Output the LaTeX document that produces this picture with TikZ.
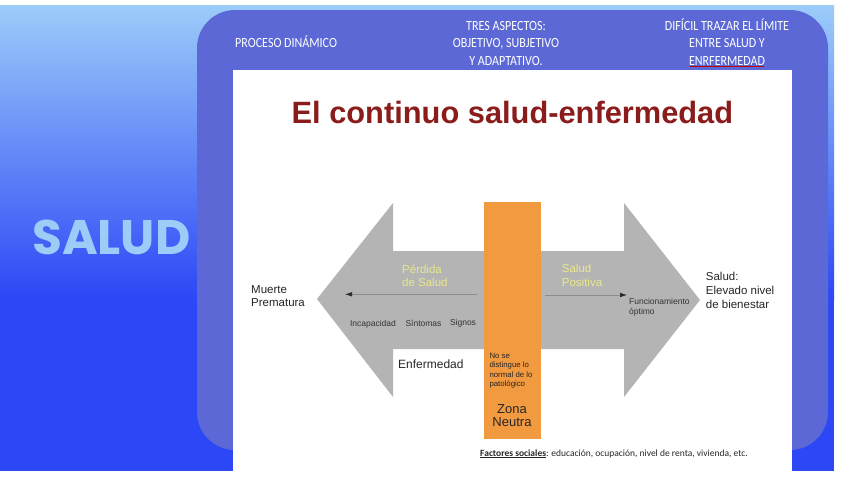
\documentclass[tikz,border=0pt]{standalone}
\usepackage{fontspec}
\setmainfont{Liberation Sans}
\newfontfamily\calibcond[FakeStretch=0.86]{Carlito}
\newfontfamily\calib{Carlito}
\newfontfamily\heavy{Poppins}
\usetikzlibrary{arrows.meta}
\definecolor{skytop}{HTML}{9CCCF9}
\definecolor{skydeep}{HTML}{2B47F6}
\definecolor{skytext}{HTML}{9DCCF9}
\definecolor{panel}{HTML}{5B68D6}
\definecolor{arrowgray}{HTML}{B4B4B4}
\definecolor{zonaorange}{HTML}{F29A40}
\definecolor{titlered}{HTML}{8B1C1C}
\definecolor{paleyellow}{HTML}{EAE88A}
\begin{document}
\begin{tikzpicture}[x=1pt,y=-1pt,inner sep=0pt,
    toptext/.style={text=white,font=\calibcond\fontsize{14}{17.5}\selectfont},
    bigtext/.style={text=black!85,font=\fontsize{11.5}{13.5}\selectfont},
    smalltext/.style={text=black!80,font=\fontsize{8.5}{10}\selectfont},
    yellowtext/.style={text=paleyellow,font=\fontsize{11.5}{13.5}\selectfont}]
\useasboundingbox (0,0) rectangle (848,477);
\fill[white] (0,0) rectangle (848,477);
\shade[top color=skytop,bottom color=skydeep] (0,5) rectangle (834,300);
\fill[skydeep] (0,300) rectangle (834,471);
\fill[panel,rounded corners=38] (197,10) rectangle (828,450);
\fill[white] (233,70) rectangle (792,477);
%
\node[font=\heavy\bfseries\fontsize{48.5}{48}\selectfont,text=skytext,anchor=base west] (salud) at (32,254) {SALUD};
\node[toptext,anchor=base west] (proceso) at (235,47) {PROCESO DINÁMICO};
\node[toptext,align=center,anchor=base] (aspectos) at (506,65) {TRES ASPECTOS:\\OBJETIVO, SUBJETIVO\\Y ADAPTATIVO.};
\node[toptext,align=center,anchor=base] (limite) at (727,65) {DIFÍCIL TRAZAR EL LÍMITE\\ENTRE SALUD Y\\ENRFERMEDAD};
\draw[red!75!black,line width=0.6pt] ([xshift=-37pt,yshift=-1pt]limite.south) -- ([xshift=37pt,yshift=-1pt]limite.south);
%
\node[text=titlered,font=\bfseries\fontsize{30.8}{32}\selectfont,anchor=base] (titulo) at (512.4,123.3) {El continuo salud-enfermedad};
%
\fill[arrowgray] (317,299) -- (393,203) -- (393,251) -- (624,251) -- (624,203)
    -- (700,300) -- (624,397) -- (624,349) -- (393,349) -- (393,397) -- cycle;
\fill[zonaorange] (484,202) rectangle (541,439);
%
\coordinate (perdidaA) at (477,294.3);
\coordinate (perdidaB) at (345,294.3);
\draw[black!45,line width=0.6pt,-{Latex[length=7pt,width=4.5pt,color=black!85]}] (perdidaA) -- (perdidaB);
\foreach \x in {377.7,420.7,460.7}
    \draw[black!30,line width=0.4pt] (\x,296) -- (\x,313);
\coordinate (positivaA) at (545,295);
\coordinate (positivaB) at (627,295);
\draw[black!45,line width=0.6pt,-{Latex[length=7pt,width=4.5pt,color=black!85]}] (positivaA) -- (positivaB);
%
\node[smalltext,anchor=base] (incap) at (373,326.5) {Incapacidad};
\node[smalltext,anchor=base] (sintomas) at (423.5,326.5) {Síntomas};
\node[smalltext,anchor=base] (signos) at (463,325.5) {Signos};
\node[yellowtext,align=left,anchor=base west] (perdida) at (402,286.5) {Pérdida\\de Salud};
\node[yellowtext,align=left,anchor=base west] (positiva) at (561.7,286.2) {Salud\\Positiva};
\node[bigtext,align=left,anchor=base west] (muerte) at (251,306.5) {Muerte\\Prematura};
\node[bigtext,align=left,anchor=base west,font=\fontsize{11.5}{14}\selectfont] (bienestar) at (705.7,308.3) {Salud:\\Elevado nivel\\de bienestar};
\node[smalltext,align=left,anchor=base west] (optimo) at (629,314) {Funcionamiento\\óptimo};
\node[bigtext,anchor=base west,font=\fontsize{12}{14}\selectfont] (enfermedad) at (398,368.3) {Enfermedad};
\node[text=black!85,align=left,anchor=base west,font=\fontsize{7.8}{9.4}\selectfont] (nodistingue) at (489.3,386.5) {No se\\distingue lo\\normal de lo\\patológico};
\node[text=black!85,align=center,anchor=base,font=\fontsize{13}{12.7}\selectfont] (zona) at (512,426) {Zona\\Neutra};
\node[text=black!85,anchor=base west,font=\calib\fontsize{9.5}{11}\selectfont] (factores) at (480,456) {\underline{\textbf{Factores sociales}}: educación, ocupación, nivel de renta, vivienda, etc.};
\end{tikzpicture}
\end{document}
